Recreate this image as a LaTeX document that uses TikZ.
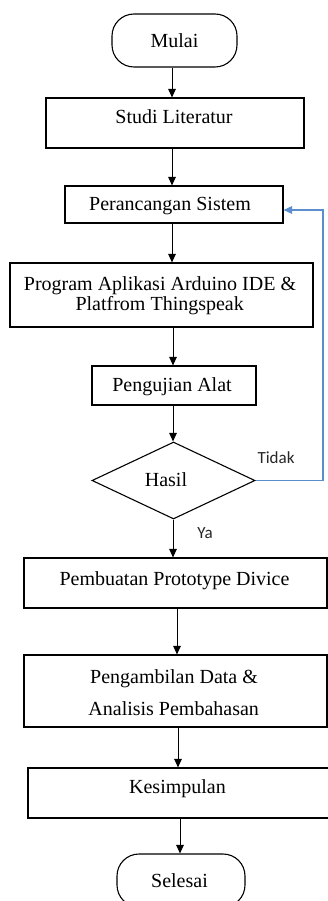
\documentclass[tikz,border=0pt]{standalone}
\usepackage{fontspec}
\setmainfont{Liberation Serif}
\newfontfamily\labelsans{Carlito}
\usetikzlibrary{shapes.geometric,arrows.meta}
\definecolor{loopblue}{RGB}{91,142,206}
\begin{document}
\begin{tikzpicture}[x=1pt,y=-1pt,
  box/.style={draw=black,line width=1.1pt,inner sep=0pt,minimum width=#1},
  term/.style={draw=black,line width=1.1pt,inner sep=0pt,rounded corners=22pt,minimum width=#1,minimum height=53pt},
  txt/.style={anchor=base,inner sep=0pt,font=\fontsize{20}{20}\selectfont},
  lbl/.style={anchor=base,inner sep=0pt,font=\labelsans\fontsize{17}{17}\selectfont,text=black!85},
  flow/.style={draw=black,line width=1pt,-{Triangle[width=7.5pt,length=8.5pt]}},
  back/.style={draw=loopblue,line width=1.4pt,-{Triangle[width=7.5pt,length=8.5pt]}}]
\fill[white] (0,0) rectangle (328,901);
\useasboundingbox (0,0) rectangle (328,901);
% shapes
\node[term=125pt] (mulai) at (174.5,40.5) {};
\node[box=258pt,minimum height=50pt] (studi) at (175,123) {};
\node[box=218pt,minimum height=37pt] (peran) at (174,204.5) {};
\node[box=303pt,minimum height=64pt] (prog) at (161.5,295) {};
\node[box=164pt,minimum height=39pt] (uji) at (174,385.5) {};
\node[draw=black,line width=1.1pt,diamond,inner sep=0pt,aspect=2.117,minimum width=163pt,minimum height=77pt] (hasil) at (173.5,480.5) {};
\node[box=303pt,minimum height=50pt] (buat) at (175.5,583) {};
\node[box=303pt,minimum height=72pt] (ambil) at (175.5,691) {};
\node[box=305pt,minimum height=50pt] (kesim) at (180.5,793) {};
\node[term=128pt] (selesai) at (181,880.5) {};
% texts
\node[txt] (mulai-t) at (174.5,48) {Mulai};
\node[txt] (studi-t) at (174,123.5) {Studi Literatur};
\node[txt] (peran-t) at (170,211) {Perancangan Sistem};
\node[txt] (prog-t1) at (160,290) {Program Aplikasi Arduino IDE \&};
\node[txt] (prog-t2) at (159.7,310.5) {Platfrom Thingspeak};
\node[txt] (uji-t) at (172,391) {Pengujian Alat};
\node[txt] (hasil-t) at (166,486.7) {Hasil};
\node[lbl] (tidak) at (276,463.3) {Tidak};
\node[lbl] (ya) at (205,538) {Ya};
\node[txt] (buat-t) at (174.5,585) {Pembuatan Prototype Divice};
\node[txt] (ambil-t1) at (174,683) {Pengambilan Data \&};
\node[txt] (ambil-t2) at (173.7,715) {Analisis Pembahasan};
\node[txt] (kesim-t) at (177.5,793) {Kesimpulan};
\node[txt] (selesai-t) at (179.5,887) {Selesai};
% connector x positions
\coordinate (xa) at (172,0);
\coordinate (xb) at (173,0);
\coordinate (xc) at (177,0);
\coordinate (xd) at (178,0);
\coordinate (xe) at (180,0);
\coordinate (bend) at (323,0);
\coordinate (peran-in) at ([yshift=-5.5pt]peran.east);
% connectors
\draw[flow] (mulai.south -| xa) -- (studi.north -| xa);
\draw[flow] (studi.south -| xa) -- (peran.north -| xa);
\draw[flow] (peran.south -| xa) -- (prog.north -| xa);
\draw[flow] (prog.south -| xb) -- (uji.north -| xb);
\draw[flow] (uji.south -| xb) -- (hasil.north -| xb);
\draw[flow] (hasil.south -| xb) -- (buat.north -| xb);
\draw[flow] (buat.south -| xc) -- (ambil.north -| xc);
\draw[flow] (ambil.south -| xd) -- (kesim.north -| xd);
\draw[flow] (kesim.south -| xe) -- (selesai.north -| xe);
\draw[back] (hasil.east) -- (hasil.east -| bend) -- (peran-in -| bend) -- (peran-in);
\end{tikzpicture}
\end{document}
